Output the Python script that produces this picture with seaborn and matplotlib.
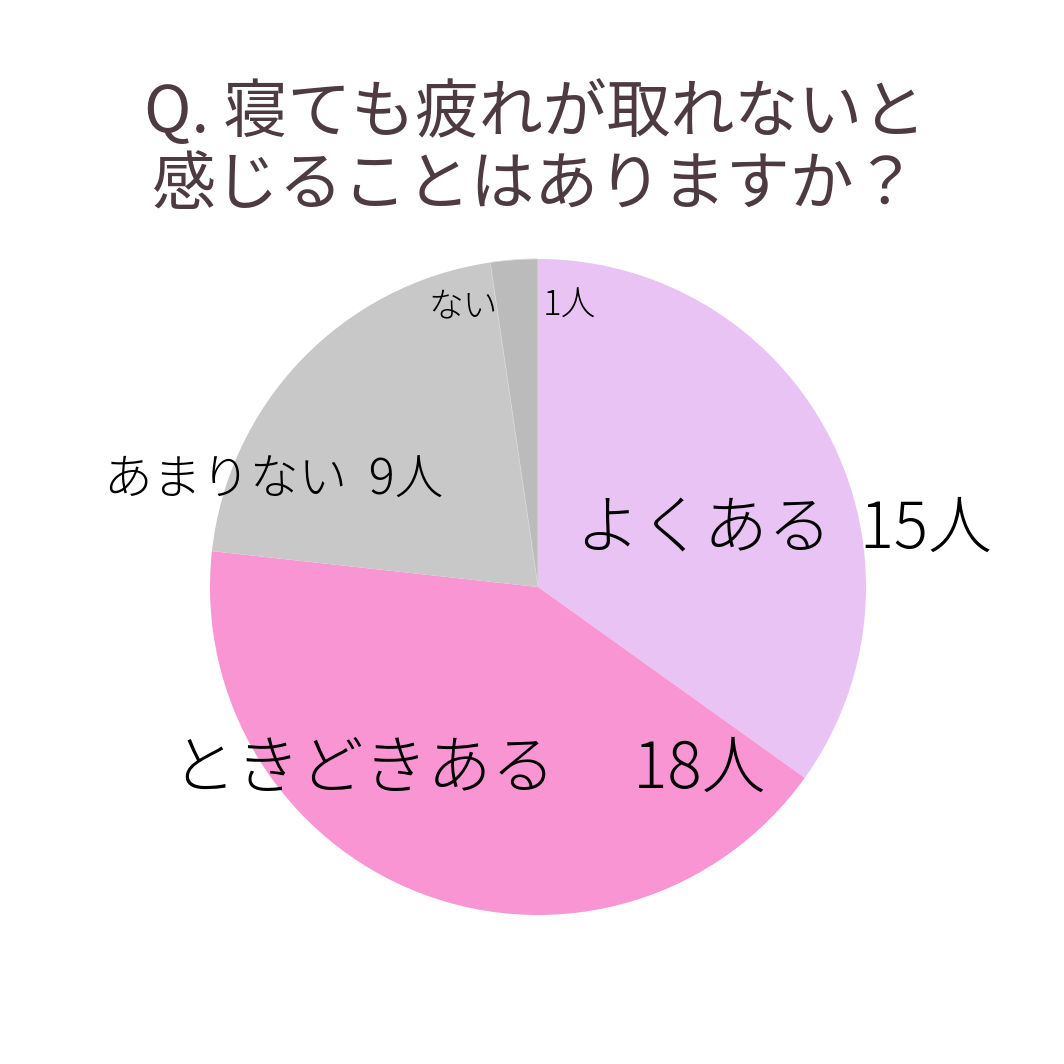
import matplotlib
matplotlib.use("Agg")
import matplotlib.pyplot as plt
import seaborn as sns

# データ
labels = ['よくある', 'ときどきある', 'あまりない', 'ない']
counts = [15, 18, 9, 1]
colors = ['#E8C3F3', '#F995D3', '#C8C8C8', '#BBBBBB']
title = 'Q. 寝ても疲れが取れないと\n感じることはありますか？'

sns.set_theme(style='white')
plt.rcParams['font.family'] = ['Noto Sans CJK JP', 'DejaVu Sans']

fig = plt.figure(figsize=(10.64, 10.64), dpi=100)
fig.patch.set_facecolor('white')

# 中心(538,587) 半径328px
cx, cy, r = 538, 587, 328
ax = fig.add_axes([(cx - r) / 1064, (1064 - cy - r) / 1064, 2 * r / 1064, 2 * r / 1064])
wedges, _ = ax.pie(counts, colors=colors, startangle=90, counterclock=False, radius=1,
                   wedgeprops=dict(linewidth=0))
wedges[3].set_edgecolor('#D8D8D8')
wedges[3].set_linewidth(0.6)
ax.set_xlim(-1, 1)
ax.set_ylim(-1, 1)
ax.set_aspect('equal')
ax.axis('off')

def px(x, y):
    return (x - cx) / r, (cy - y) / r

lbl = dict(va='center', ha='left', color='black', fontweight='light')
# ラベル
x, y = px(576, 530)
ax.text(x, y, f'{labels[0]}  {counts[0]}人', fontsize=46, **lbl)
x, y = px(172, 770)
ax.text(x, y, f'{labels[1]}　 {counts[1]}人', fontsize=46, **lbl)
x, y = px(104, 481)
ax.text(x, y, f'{labels[2]}  {counts[2]}人', fontsize=35, **lbl)
x, y = px(428, 306)
ax.text(x, y, labels[3], fontsize=25, **lbl)
x, y = px(543, 306)
ax.text(x, y, f'{counts[3]}人', fontsize=25, **lbl)

fig.text(0.503, 1 - 150 / 1064, title, fontsize=46, ha='center', va='center',
         color='#4E3B42', linespacing=1.1)

fig.savefig('out.png', dpi=100, facecolor='white')
